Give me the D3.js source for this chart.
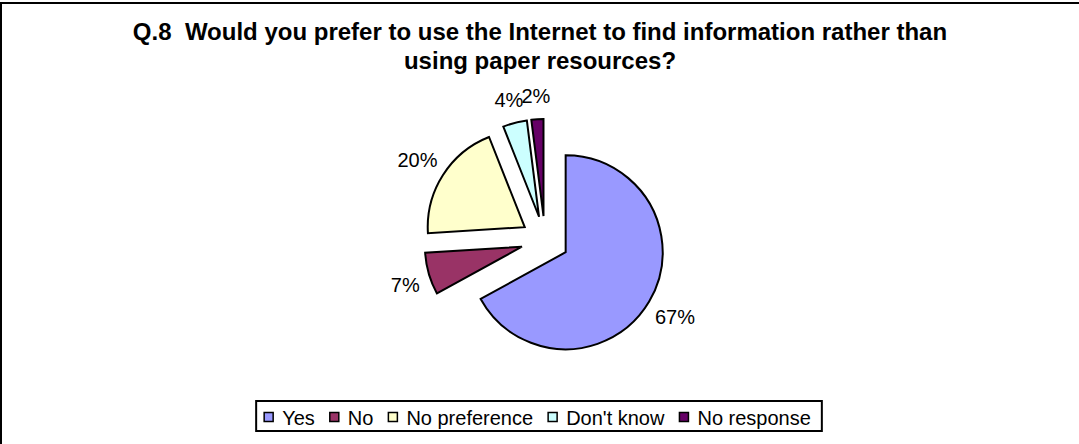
<!DOCTYPE html>
<html>
<head>
<meta charset="utf-8">
<script src="https://cdn.jsdelivr.net/npm/d3@7"></script>
<style>
  html, body { margin: 0; padding: 0; background: #fff; overflow: hidden; }
  svg { display: block; }
  text { font-family: Arial, "Liberation Sans", sans-serif; fill: #000; white-space: pre; }
</style>
</head>
<body>
<svg id="chart" width="1079" height="444"></svg>
<script>
// Survey answers, in the order they sit around the pie (clockwise from 12 o'clock)
const categories = ["Yes", "No", "No preference", "Don't know", "No response"];
const percents = [67, 7, 20, 4, 2];
const colors = ["#9999FF", "#993366", "#FFFFCC", "#CCFFFF", "#660066"];
const titleLines = [
  "Q.8  Would you prefer to use the Internet to find information rather than",
  "using paper resources?"
];

const W = 1079, H = 444;
const svg = d3.select("#chart");

// chart frame: only its top and left edges fall inside the view
svg.append("path")
  .attr("d", `M1,${H} L1,3 L${W},3`)
  .attr("fill", "none").attr("stroke", "#000").attr("stroke-width", 2);

// title
svg.append("g").selectAll("text")
  .data(titleLines)
  .join("text")
  .attr("x", 540)
  .attr("y", (d, i) => 40 + i * 29)
  .attr("text-anchor", "middle")
  .attr("font-size", 24)
  .attr("font-weight", "bold")
  .attr("xml:space", "preserve")
  .text(d => d);

// exploded pie
const cx = 545, cy = 240, radius = 97, explode = 24;
const pie = d3.pie().sort(null).value(d => d)(percents);
const arc = d3.arc().innerRadius(0).outerRadius(radius);

const pieG = svg.append("g").attr("transform", `translate(${cx},${cy})`);

const slices = pieG.selectAll("g.slice")
  .data(pie)
  .join("g")
  .attr("class", "slice")
  .attr("transform", d => {
    const a = (d.startAngle + d.endAngle) / 2;
    return `translate(${Math.sin(a) * explode},${-Math.cos(a) * explode})`;
  });

slices.append("path")
  .attr("d", arc)
  .attr("fill", (d, i) => colors[i])
  .attr("stroke", "#000")
  .attr("stroke-width", 2)
  .attr("stroke-linejoin", "miter");

// percentage labels just outside each slice
const labelGap = 10, labelH = 15;
slices.append("text")
  .attr("font-size", 20)
  .attr("text-anchor", "middle")
  .text(d => d.value + "%")
  .each(function (d) {
    const a = (d.startAngle + d.endAngle) / 2;
    const dx = Math.sin(a), dy = -Math.cos(a);
    const w = this.getComputedTextLength();
    const x = dx * (radius + labelGap) + dx * w / 2;
    const y = dy * (radius + labelGap) + dy * labelH / 2 + Math.sign(dy) * 6;
    d3.select(this).attr("x", x).attr("y", y + labelH / 2);
  });

// legend
const legend = svg.append("g");
const legendItems = legend.selectAll("g")
  .data(categories)
  .join("g");
legendItems.append("rect")
  .attr("width", 9).attr("height", 9)
  .attr("y", 412.5)
  .attr("fill", (d, i) => colors[i])
  .attr("stroke", "#000").attr("stroke-width", 1.5);
legendItems.append("text")
  .attr("font-size", 20)
  .attr("y", 425)
  .text(d => d);

const swatchToText = 18, itemGap = 15;
let widths = [];
legendItems.select("text").each(function () { widths.push(this.getComputedTextLength()); });
const total = d3.sum(widths) + categories.length * swatchToText + (categories.length - 1) * itemGap;
const boxPadL = 8, boxPadR = 11;
const boxW = total + boxPadL + boxPadR;
const boxX = 539 - boxW / 2;
legend.insert("rect", ":first-child")
  .attr("x", boxX).attr("y", 401)
  .attr("width", boxW).attr("height", 30)
  .attr("fill", "#fff").attr("stroke", "#000").attr("stroke-width", 2);
let xPos = boxX + boxPadL;
legendItems.each(function (d, i) {
  const g = d3.select(this);
  g.select("rect").attr("x", xPos);
  g.select("text").attr("x", xPos + swatchToText);
  xPos += swatchToText + widths[i] + itemGap;
});
</script>
</body>
</html>
